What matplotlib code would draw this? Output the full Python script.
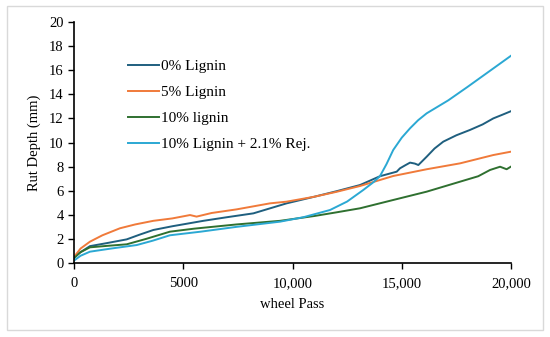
import matplotlib
matplotlib.use("Agg")
import matplotlib.pyplot as plt
from matplotlib.patches import Rectangle

# Data (wheel pass, rut depth mm)
x_0 = [0, 300, 730, 1500, 2410, 3000, 3630, 4500, 5920, 7000, 8210, 9730, 11000, 12000, 13090, 14000, 14770, 14920, 15150, 15380, 15600, 15760, 16140, 16500, 16900, 17500, 18120, 18700, 19190, 19600, 20000]
y_0 = [0.5, 0.9, 1.4, 1.65, 1.96, 2.35, 2.74, 3.05, 3.5, 3.8, 4.12, 4.95, 5.5, 5.95, 6.47, 7.2, 7.58, 7.86, 8.1, 8.33, 8.25, 8.13, 8.82, 9.5, 10.07, 10.6, 11.04, 11.5, 12.0, 12.3, 12.6]

x_5 = [0, 300, 730, 1300, 2100, 2800, 3630, 4500, 5310, 5610, 6300, 7440, 8970, 9730, 11000, 12000, 13090, 14610, 16140, 17670, 19190, 20000]
y_5 = [0.5, 1.2, 1.77, 2.3, 2.88, 3.2, 3.5, 3.7, 3.98, 3.85, 4.15, 4.45, 4.95, 5.09, 5.5, 5.9, 6.39, 7.22, 7.78, 8.27, 8.96, 9.24]

x_10 = [0, 300, 730, 1500, 2410, 3300, 4390, 5500, 7440, 9430, 11000, 12000, 13090, 14610, 16140, 17670, 18500, 19040, 19500, 19800, 20000]
y_10 = [0.4, 0.9, 1.3, 1.42, 1.55, 2.0, 2.6, 2.85, 3.2, 3.5, 3.9, 4.2, 4.54, 5.23, 5.92, 6.75, 7.2, 7.72, 7.99, 7.78, 8.0]

x_r = [0, 300, 730, 1700, 2870, 3600, 4390, 5800, 7440, 9430, 10500, 11720, 12500, 13240, 13700, 14000, 14300, 14610, 15000, 15380, 15750, 16140, 17130, 18000, 19000, 20000]
y_r = [0.2, 0.6, 0.94, 1.2, 1.49, 1.85, 2.3, 2.6, 3.0, 3.43, 3.8, 4.4, 5.1, 6.06, 6.7, 7.2, 8.2, 9.38, 10.4, 11.18, 11.85, 12.42, 13.5, 14.6, 15.9, 17.2]

labels = ["0% Lignin", "5% Lignin", "10% lignin", "10% Lignin + 2.1% Rej."]
colors = ["#1F5F7F", "#F07A3A", "#2F7030", "#2BA8D3"]
x_ticks = [0, 5000, 10000, 15000, 20000]
x_ticklabels = ["0", "5000", "10,000", "15,000", "20,000"]
y_ticks = list(range(0, 21, 2))

plt.rcParams['font.family'] = ['Liberation Serif', 'DejaVu Serif']

fig = plt.figure(figsize=(5.5, 3.37), dpi=100)
fig.patches.append(Rectangle((7/550, 1 - 330/337), 536/550, 324/337, transform=fig.transFigure,
                             fill=False, edgecolor="#D9D9D9", linewidth=1.0))
ax = fig.add_axes([74/550, 1 - 263/337, (511 - 74)/550, (263 - 22)/337])

for xs, ys, lab, c in zip([x_0, x_5, x_10, x_r], [y_0, y_5, y_10, y_r], labels, colors):
    ax.plot(xs, ys, color=c, linewidth=1.4, label=lab)

ax.set_xlim(0, 20000)
ax.set_ylim(0, 20)
ax.set_xticks(x_ticks)
ax.set_xticklabels(x_ticklabels)
ax.set_yticks(y_ticks)
ax.tick_params(axis='both', labelsize=10.5, direction='out', length=4, width=1.0, colors='black')
ax.tick_params(axis='x', pad=6)
for s in ['top', 'right']:
    ax.spines[s].set_visible(False)
for s in ['left', 'bottom']:
    ax.spines[s].set_linewidth(1.2)

ax.set_xlabel("wheel Pass", fontsize=10.5, labelpad=6)
ax.set_ylabel("Rut Depth (mm)", fontsize=10.5, labelpad=6)

ax.legend(loc='upper left', bbox_to_anchor=(0.11, 0.87), frameon=False, fontsize=11,
          handlelength=2.0, handletextpad=0.15, labelspacing=0.8, borderaxespad=0)

fig.savefig("out.png", dpi=100)
